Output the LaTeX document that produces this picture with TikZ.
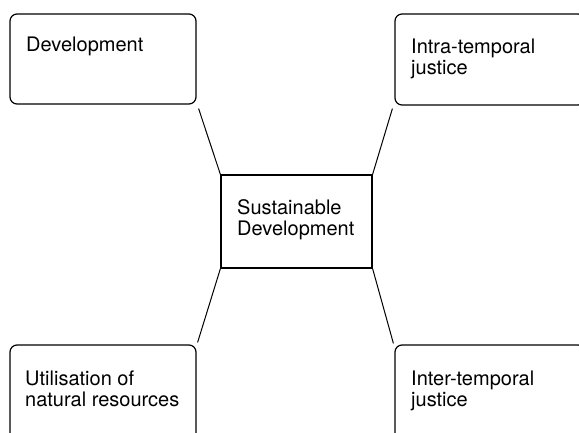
\documentclass[tikz,border=0pt]{standalone}
\usepackage{fontspec}
\setmainfont{TeX Gyre Heros}
\begin{document}
\begin{tikzpicture}[x=1pt,y=-1pt,
  box/.style={draw, line width=1.2pt, rounded corners=7pt, inner sep=0pt},
  cbox/.style={draw, line width=1.2pt, inner sep=0pt},
  lbl/.style={anchor=base west, inner sep=0pt, align=left, font=\fontsize{20}{21}\selectfont},
  link/.style={line width=1pt}]
\useasboundingbox (0,0) rectangle (579,433);
\clip (0,0) rectangle (579,433);
% boxes
\node[box, minimum width=186pt, minimum height=90pt] (tl) at (103,59) {};
\node[box, minimum width=190pt, minimum height=91pt] (tr) at (490,59.5) {};
\node[cbox, minimum width=151pt, minimum height=93pt] (c) at (296.5,221.5) {};
\node[box, minimum width=186pt, minimum height=120pt] (bl) at (103,405) {};
\node[box, minimum width=190pt, minimum height=120pt] (br) at (490,405) {};
% texts (base anchor = baseline of last line)
\node[lbl] (ttl) at (26,52) {Development};
\node[lbl] (ttr) at (411,75) {Intra-temporal\\justice};
\node[lbl] (tc) at (237,236) {Sustainable\\Development};
\node[lbl] (tbl) at (25,406) {Utilisation of\\natural resources};
\node[lbl] (tbr) at (411,406) {Inter-temporal\\justice};
% connectors
\draw[link] ([shift={(2,4)}]tl.south east) -- (c.north west);
\draw[link] ([shift={(-2,3)}]tr.south west) -- (c.north east);
\draw[link] (c.south west) -- ([shift={(1,-2)}]bl.north east);
\draw[link] (c.south east) -- ([shift={(-1,-1)}]br.north west);
\end{tikzpicture}
\end{document}
